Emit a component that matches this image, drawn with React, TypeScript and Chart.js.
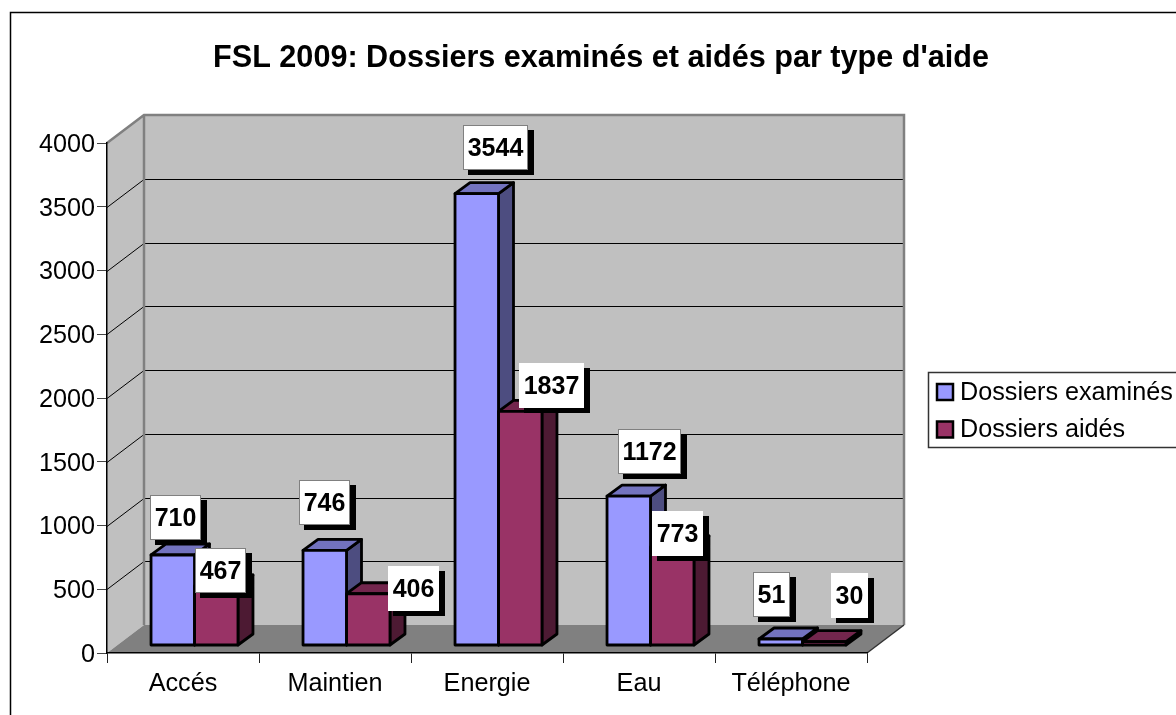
import React, { useEffect, useRef } from "react";
import { Chart, registerables } from "chart.js";

Chart.register(...registerables);

const categories = ["Accés", "Maintien", "Energie", "Eau", "Téléphone"];
const seriesNames = ["Dossiers examinés", "Dossiers aidés"];
const examines = [710, 746, 3544, 1172, 51];
const aides = [467, 406, 1837, 773, 30];
const yTicks = [0, 500, 1000, 1500, 2000, 2500, 3000, 3500, 4000];
const chartTitle = "FSL 2009: Dossiers examinés et aidés par type d'aide";

const FONT = "'Liberation Sans', Arial, sans-serif";
const W = 1176;
const H = 715;
const WALL_DX = 37;
const WALL_DY = 28;
const BAR_SHIFT_X = 11.5;
const BAR_SHIFT_Y = -7.5;
const BAR_DX = 15;
const BAR_DY = 11;
const BORDER = 2.8;

const fronts = ["#9999ff", "#993366"];
const tops = ["#7373bf", "#73264d"];
const sides = ["#4d4d80", "#4d1a33"];

// Label-box centre relative to the top centre of its bar's front face.
const labelNudges = [
  [[3, -37], [0, -48], [18.5, -46], [20.5, -44.5], [-9, -44.5]],
  [[4, -15.5], [45, -5.5], [31.5, -25.5], [5, -13.5], [25, -46.5]],
];
const labelFramed = [
  [true, true, true, true, true],
  [true, false, false, false, false],
];

function poly(ctx: CanvasRenderingContext2D, pts: number[][]) {
  ctx.beginPath();
  pts.forEach((p, i) => (i ? ctx.lineTo(p[0], p[1]) : ctx.moveTo(p[0], p[1])));
  ctx.closePath();
}

const wallsPlugin = {
  id: "walls",
  afterLayout(chart: any) {
    // The title is centred on the whole figure, not on the plot.
    chart.titleBlock.left = 0;
    chart.titleBlock.right = 1202;
  },
  beforeDraw(chart: any) {
    const { ctx, chartArea: a, scales } = chart;
    const { left: l, right: r, top: t, bottom: b } = a;
    const dx = WALL_DX;
    const dy = WALL_DY;
    // Settle the y tick labels on the digit centre.
    if (!chart.$labelsNudged) {
      scales.y.getLabelItems().forEach((it: any) => {
        it.options.translation = [it.options.translation[0], it.options.translation[1] + 2];
      });
      chart.$labelsNudged = true;
    }
    ctx.save();
    ctx.fillStyle = "#fff";
    ctx.fillRect(0, 0, W, H);
    ctx.strokeStyle = "#000";
    ctx.lineWidth = 1.5;
    ctx.strokeRect(10.5, 12.5, W, H);
    ctx.fillStyle = "#c0c0c0";
    poly(ctx, [[l, t], [l + dx, t - dy], [l + dx, b - dy], [l, b]]);
    ctx.fill();
    poly(ctx, [[l + dx, t - dy], [r + dx, t - dy], [r + dx, b - dy], [l + dx, b - dy]]);
    ctx.fill();
    ctx.fillStyle = "#808080";
    poly(ctx, [[l, b], [l + dx, b - dy], [r + dx, b - dy], [r, b]]);
    ctx.fill();
    ctx.strokeStyle = "#000";
    ctx.lineWidth = 1;
    for (const v of yTicks.slice(1, -1)) {
      const y = Math.round(scales.y.getPixelForValue(v)) + 0.5;
      ctx.beginPath();
      ctx.moveTo(l, y);
      ctx.lineTo(l + dx, y - dy);
      ctx.lineTo(r + dx, y - dy);
      ctx.stroke();
    }
    ctx.strokeStyle = "#808080";
    ctx.lineWidth = 2.5;
    ctx.beginPath();
    ctx.moveTo(l, t);
    ctx.lineTo(l + dx, t - dy);
    ctx.lineTo(r + dx, t - dy);
    ctx.lineTo(r + dx, b - dy);
    ctx.moveTo(l + dx, t - dy);
    ctx.lineTo(l + dx, b - dy);
    ctx.stroke();
    ctx.strokeStyle = "#333";
    ctx.lineWidth = 1.5;
    ctx.beginPath();
    ctx.moveTo(r + dx, b - dy);
    ctx.lineTo(r, b);
    ctx.stroke();
    ctx.restore();
  },
};

const barDepthPlugin = {
  id: "barDepth",
  beforeDatasetsDraw(chart: any) {
    const { ctx } = chart;
    ctx.save();
    ctx.translate(BAR_SHIFT_X, BAR_SHIFT_Y);
    ctx.lineWidth = BORDER;
    ctx.strokeStyle = "#000";
    ctx.lineJoin = "round";
    chart.data.datasets.forEach((_: any, di: number) => {
      chart.getDatasetMeta(di).data.forEach((el: any) => {
        const x0 = el.x - el.width / 2;
        const x1 = el.x + el.width / 2;
        const y0 = el.y;
        const y1 = el.base;
        ctx.fillStyle = sides[di];
        poly(ctx, [[x1, y0], [x1 + BAR_DX, y0 - BAR_DY], [x1 + BAR_DX, y1 - BAR_DY], [x1, y1]]);
        ctx.fill();
        ctx.stroke();
        ctx.fillStyle = tops[di];
        poly(ctx, [[x0, y0], [x0 + BAR_DX, y0 - BAR_DY], [x1 + BAR_DX, y0 - BAR_DY], [x1, y0]]);
        ctx.fill();
        ctx.stroke();
      });
    });
    // The native bars (front faces) follow, drawn in the same shifted plane.
  },
  afterDatasetsDraw(chart: any) {
    const { ctx } = chart;
    // Outline of the front faces, centred on the bars' true edges.
    chart.data.datasets.forEach((_: any, di: number) => {
      chart.getDatasetMeta(di).data.forEach((el: any) => {
        ctx.strokeRect(el.x - el.width / 2, el.y, el.width, el.base - el.y);
      });
    });
    ctx.restore();
    ctx.save();
    ctx.font = `bold 25px ${FONT}`;
    ctx.textAlign = "center";
    ctx.textBaseline = "middle";
    chart.data.datasets.forEach((ds: any, di: number) => {
      chart.getDatasetMeta(di).data.forEach((el: any, i: number) => {
        const text = String(ds.data[i]);
        const w = Math.round(ctx.measureText(text).width) + 9;
        const h = 45;
        const cx = el.x + BAR_SHIFT_X + labelNudges[di][i][0];
        const cy = el.y + BAR_SHIFT_Y + labelNudges[di][i][1];
        const x = Math.round(cx - w / 2);
        const y = Math.round(cy - h / 2);
        ctx.fillStyle = "#000";
        ctx.fillRect(x + 5, y + 5, w + 1, h);
        ctx.fillStyle = "#fff";
        ctx.fillRect(x, y, w, h);
        if (labelFramed[di][i]) {
          ctx.strokeStyle = "#808080";
          ctx.lineWidth = 1;
          ctx.strokeRect(x + 0.5, y + 0.5, w - 1, h - 1);
        }
        ctx.fillStyle = "#000";
        ctx.fillText(text, x + w / 2, y + h / 2 + 2);
      });
    });
    ctx.restore();
  },
};

const legendPlugin = {
  id: "sideLegend",
  afterDraw(chart: any) {
    const { ctx } = chart;
    ctx.save();
    ctx.strokeStyle = "#333";
    ctx.lineWidth = 1.5;
    ctx.strokeRect(928.5, 372.5, W, 75);
    ctx.font = `25.2px ${FONT}`;
    ctx.textAlign = "left";
    ctx.textBaseline = "middle";
    chart.data.datasets.forEach((ds: any, i: number) => {
      const y = 384 + i * 37.5;
      ctx.fillStyle = ds.backgroundColor;
      ctx.fillRect(937, y, 16, 16);
      ctx.strokeStyle = "#000";
      ctx.lineWidth = 2.5;
      ctx.strokeRect(937, y, 16, 16);
      ctx.fillStyle = "#000";
      ctx.fillText(ds.label, 960, y + 9);
    });
    ctx.restore();
  },
};

export default function App() {
  const ref = useRef<HTMLCanvasElement>(null);
  useEffect(() => {
    const chart = new Chart(ref.current!, {
      type: "bar",
      data: {
        labels: categories,
        datasets: [
          {
            label: seriesNames[0],
            data: examines,
            backgroundColor: fronts[0],
            borderWidth: 0,
            categoryPercentage: 0.572,
            barPercentage: 1,
          },
          {
            label: seriesNames[1],
            data: aides,
            backgroundColor: fronts[1],
            borderWidth: 0,
            categoryPercentage: 0.572,
            barPercentage: 1,
          },
        ],
      },
      options: {
        responsive: false,
        animation: false,
        devicePixelRatio: 1,
        layout: { padding: { left: 0, top: 0, right: W - 867, bottom: 0 } },
        plugins: {
          legend: { display: false },
          tooltip: { enabled: false },
          title: {
            display: true,
            text: chartTitle,
            color: "#000",
            font: { family: FONT, size: 30.6, weight: "bold", lineHeight: 1.2 },
            padding: { top: 40, bottom: 143 - 40 - 36.72 },
          },
        },
        scales: {
          x: {
            grid: { display: true, drawOnChartArea: false, drawTicks: true, tickLength: 10, color: "#222", offset: true },
            border: { display: true, color: "#000", width: 1.5 },
            ticks: { color: "#000", font: { family: FONT, size: 25.2 }, padding: 6, maxRotation: 0 },
            afterFit: (s: any) => { s.height = H - 653; },
          },
          y: {
            min: 0,
            max: 4000,
            afterBuildTicks: (s: any) => { s.ticks = yTicks.map((value) => ({ value })); },
            grid: { display: true, drawOnChartArea: false, drawTicks: true, tickLength: 10, color: "#444" },
            border: { display: true, color: "#000", width: 1.5 },
            ticks: { color: "#000", font: { family: FONT, size: 25.2 }, padding: 2, callback: (v: any) => String(v) },
            afterFit: (s: any) => { s.width = 107; },
          },
        },
      },
      plugins: [wallsPlugin, barDepthPlugin, legendPlugin],
    } as any);
    return () => chart.destroy();
  }, []);
  return (
    <div style={{ position: "fixed", left: 0, top: 0, width: 1176, height: 715, overflow: "hidden", background: "#fff" }}>
      <canvas ref={ref} width={W} height={H} style={{ display: "block" }} />
    </div>
  );
}
